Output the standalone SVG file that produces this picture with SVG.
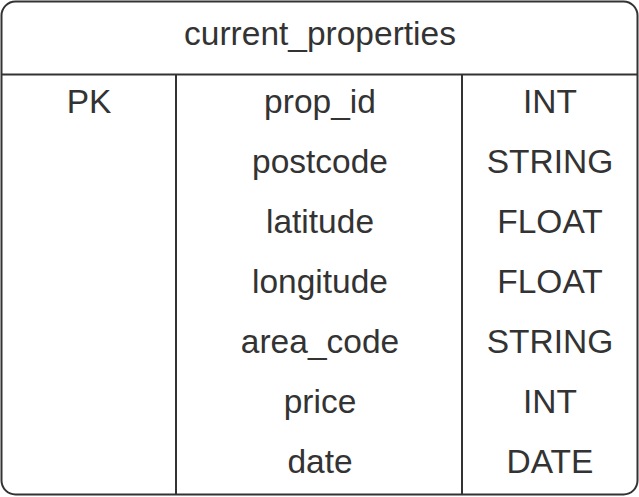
<svg xmlns="http://www.w3.org/2000/svg" width="639" height="497" viewBox="0 0 639 497">
  <style>
    .frame { fill: #ffffff; stroke: #333333; stroke-width: 2; }
    .rule { stroke: #333333; stroke-width: 2; fill: none; }
    .t { font-family: "Liberation Sans", Arial, sans-serif; font-size: 33.5px; fill: #333333; text-anchor: middle; }
  </style>
  <g id="table">
    <rect class="frame" x="1.5" y="1.5" width="636" height="493" rx="14" ry="14"/>
    <line class="rule" x1="1.5" y1="74.5" x2="637.5" y2="74.5"/>
    <line class="rule" x1="176" y1="74.5" x2="176" y2="494.5"/>
    <line class="rule" x1="462" y1="74.5" x2="462" y2="494.5"/>
  </g>
  <g id="header">
    <text class="t" x="320" y="45">current_properties</text>
  </g>
  <g id="keys">
    <text class="t" x="89" y="112.5">PK</text>
  </g>
  <g id="fields">
    <text class="t" x="320" y="112.5">prop_id</text>
    <text class="t" x="320" y="172.5">postcode</text>
    <text class="t" x="320" y="232.5">latitude</text>
    <text class="t" x="320" y="292.5">longitude</text>
    <text class="t" x="320" y="352.5">area_code</text>
    <text class="t" x="320" y="412.5">price</text>
    <text class="t" x="320" y="472.5">date</text>
  </g>
  <g id="types">
    <text class="t" x="550" y="112.5">INT</text>
    <text class="t" x="550" y="172.5">STRING</text>
    <text class="t" x="550" y="232.5">FLOAT</text>
    <text class="t" x="550" y="292.5">FLOAT</text>
    <text class="t" x="550" y="352.5">STRING</text>
    <text class="t" x="550" y="412.5">INT</text>
    <text class="t" x="550" y="472.5">DATE</text>
  </g>
</svg>
